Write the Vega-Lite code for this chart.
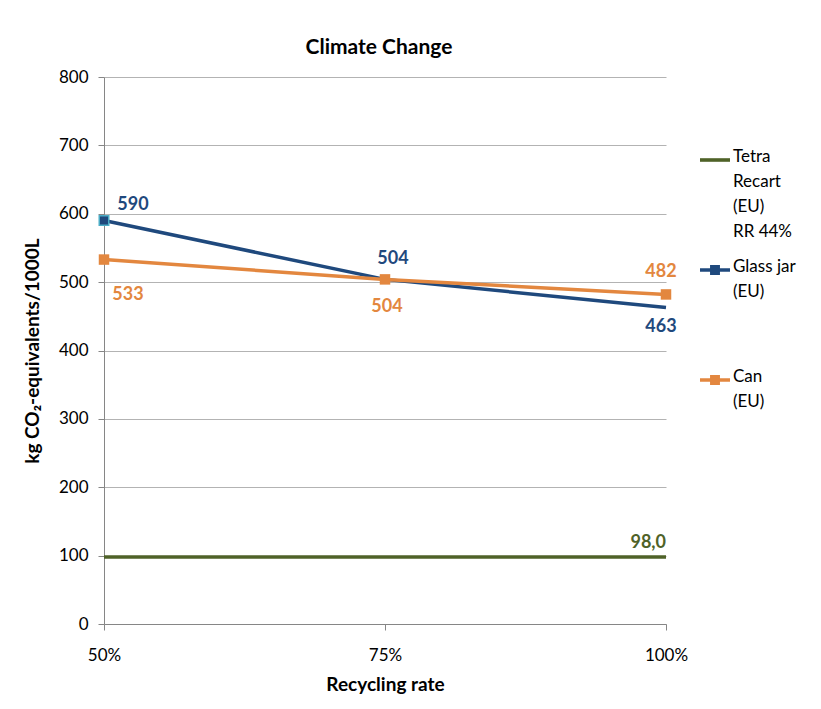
{
  "$schema": "https://vega.github.io/schema/vega-lite/v6.json",
  "width": 562,
  "height": 547,
  "autosize": {"type": "none"},
  "padding": {"left": 104, "top": 77, "right": 155, "bottom": 85},
  "background": "white",
  "config": {
    "font": "Lato",
    "view": {"stroke": null},
    "locale": {"number": {"decimal": ",", "thousands": ".", "grouping": [3], "currency": ["", " €"]}}
  },
  "title": {"text": "Climate Change", "fontSize": 21, "fontWeight": "bold", "color": "#000000", "offset": 10, "dx": -6, "font": "Lato"},
  "data": {"values": [
    {"series": "Tetra Recart (EU) RR 44%", "rate": 50, "value": 98},
    {"series": "Tetra Recart (EU) RR 44%", "rate": 75, "value": 98},
    {"series": "Tetra Recart (EU) RR 44%", "rate": 100, "value": 98},
    {"series": "Glass jar (EU)", "rate": 50, "value": 590},
    {"series": "Glass jar (EU)", "rate": 75, "value": 504},
    {"series": "Glass jar (EU)", "rate": 100, "value": 463},
    {"series": "Can (EU)", "rate": 50, "value": 533},
    {"series": "Can (EU)", "rate": 75, "value": 504},
    {"series": "Can (EU)", "rate": 100, "value": 482}
  ]},
  "encoding": {
    "x": {"field": "rate", "type": "quantitative",
      "scale": {"domain": [50, 100], "nice": false, "zero": false},
      "axis": {"values": [50, 75, 100], "labelExpr": "datum.value + '%'", "title": "Recycling rate", "grid": false,
        "domainColor": "#868686", "tickColor": "#868686", "tickSize": 6, "labelPadding": 17, "labelFontSize": 17, "labelColor": "#000000",
        "labelFlush": false, "titleFontSize": 19, "titleFontWeight": "bold", "titleColor": "#000000", "titlePadding": 12}},
    "y": {"field": "value", "type": "quantitative",
      "scale": {"domain": [0, 800], "nice": false},
      "axis": {"values": [0, 100, 200, 300, 400, 500, 600, 700, 800], "title": "kg CO₂-equivalents/1000L", "grid": true, "gridColor": "#b3b3b3",
        "domainColor": "#868686", "tickColor": "#868686", "tickSize": 6, "labelPadding": 10, "labelFontSize": 17, "labelColor": "#000000",
        "titleFontSize": 19, "titleFontWeight": "bold", "titleColor": "#000000", "titlePadding": 16}},
    "color": {"field": "series", "type": "nominal",
      "scale": {"domain": ["Tetra Recart (EU) RR 44%", "Glass jar (EU)", "Can (EU)"], "range": ["#4f6228", "#1f497d", "#e3873f"]}}
  },
  "layer": [
    {"mark": {"type": "line", "strokeWidth": 3.5}},
    {"transform": [{"filter": "datum.series == 'Glass jar (EU)' && datum.rate == 50"}],
      "mark": {"type": "square", "size": 90, "filled": true, "opacity": 1, "stroke": "#4bacc6", "strokeWidth": 1.5}},
    {"transform": [{"filter": "datum.series == 'Can (EU)'"}],
      "mark": {"type": "square", "size": 110, "filled": true, "opacity": 1}},
    {"transform": [{"filter": "datum.rate == 50"}],
      "mark": {"type": "point", "filled": true, "opacity": 0},
      "encoding": {
        "color": {"field": "series", "type": "nominal",
          "legend": {"orient": "none", "legendX": 596, "legendY": 68, "title": null, "padding": 0,
            "symbolSize": 900, "symbolOpacity": 1, "symbolStrokeWidth": 0, "symbolType": "M-1,-0.12H1V0.12H-1Z", "gridAlign": "all", "rowPadding": 15,
            "labelFontSize": 17, "labelColor": "#000000", "labelOffset": 3, "labelBaseline": "top", "labelLimit": 200,
            "labelExpr": "datum.label == 'Tetra Recart (EU) RR 44%' ? ['Tetra', 'Recart', '(EU)', 'RR 44%'] : datum.label == 'Glass jar (EU)' ? ['Glass jar', '(EU)'] : ['Can', '(EU)']",
            "encode": {
              "labels": {"update": {"lineHeight": {"value": 25}, "dy": {"value": -11}}},
              "symbols": {"update": {"shape": {"signal": "datum.value == 'Tetra Recart (EU) RR 44%' ? 'M-1,-0.12H1V0.12H-1Z' : 'M-1,-0.12H-0.33V-0.33H0.33V-0.12H1V0.12H0.33V0.33H-0.33V0.12H-1Z'"}, "opacity": {"value": 1}, "strokeWidth": {"value": 0}}}
            }}}
      }},
    {"transform": [{"filter": "datum.series == 'Tetra Recart (EU) RR 44%' && datum.rate == 100"}],
      "mark": {"type": "text", "fontSize": 18, "fontWeight": "bold", "align": "right", "baseline": "middle", "dx": 0, "dy": -14, "color": "#4f6228"},
      "encoding": {"text": {"field": "value", "format": ".1f"}}},
    {"transform": [{"filter": "datum.series == 'Glass jar (EU)' && datum.rate == 50"}],
      "mark": {"type": "text", "fontSize": 18, "fontWeight": "bold", "align": "center", "baseline": "middle", "dx": 29, "dy": -16, "color": "#1f497d"},
      "encoding": {"text": {"field": "value", "format": "d"}}},
    {"transform": [{"filter": "datum.series == 'Glass jar (EU)' && datum.rate == 75"}],
      "mark": {"type": "text", "fontSize": 18, "fontWeight": "bold", "align": "center", "baseline": "middle", "dx": 8, "dy": -20, "color": "#1f497d"},
      "encoding": {"text": {"field": "value", "format": "d"}}},
    {"transform": [{"filter": "datum.series == 'Glass jar (EU)' && datum.rate == 100"}],
      "mark": {"type": "text", "fontSize": 18, "fontWeight": "bold", "align": "center", "baseline": "middle", "dx": -5, "dy": 20, "color": "#1f497d"},
      "encoding": {"text": {"field": "value", "format": "d"}}},
    {"transform": [{"filter": "datum.series == 'Can (EU)' && datum.rate == 50"}],
      "mark": {"type": "text", "fontSize": 18, "fontWeight": "bold", "align": "center", "baseline": "middle", "dx": 24, "dy": 35, "color": "#e46c0a"},
      "encoding": {"text": {"field": "value", "format": "d"}}},
    {"transform": [{"filter": "datum.series == 'Can (EU)' && datum.rate == 75"}],
      "mark": {"type": "text", "fontSize": 18, "fontWeight": "bold", "align": "center", "baseline": "middle", "dx": 2, "dy": 28, "color": "#e46c0a"},
      "encoding": {"text": {"field": "value", "format": "d"}}},
    {"transform": [{"filter": "datum.series == 'Can (EU)' && datum.rate == 100"}],
      "mark": {"type": "text", "fontSize": 18, "fontWeight": "bold", "align": "center", "baseline": "middle", "dx": -5, "dy": -22, "color": "#e46c0a"},
      "encoding": {"text": {"field": "value", "format": "d"}}}
  ]
}
